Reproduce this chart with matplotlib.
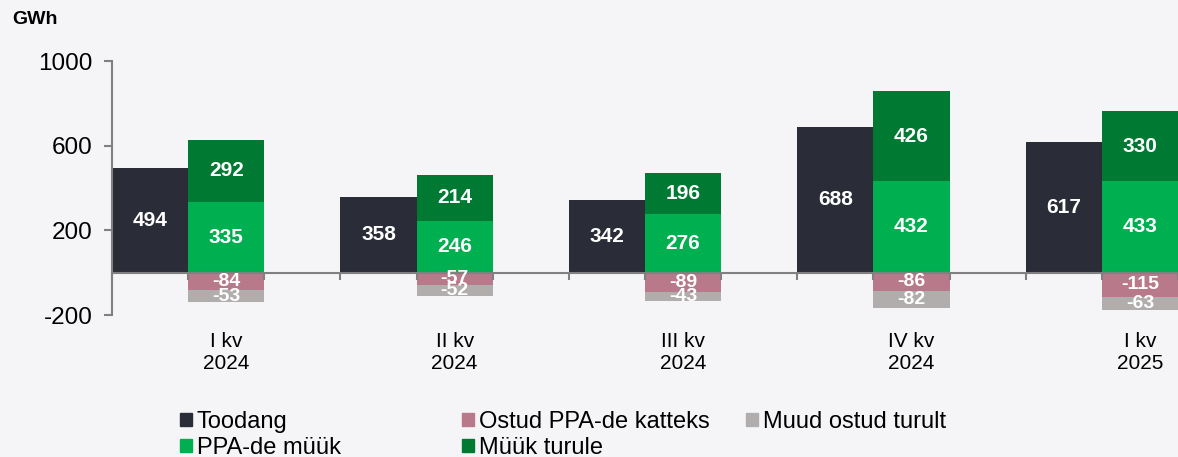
import numpy as np
import matplotlib.pyplot as plt
from matplotlib.patches import Patch

plt.rcParams['font.family'] = ['Liberation Sans', 'DejaVu Sans']
plt.rcParams['axes.unicode_minus'] = False

quarters = ['I kv\n2024', 'II kv\n2024', 'III kv\n2024', 'IV kv\n2024', 'I kv\n2025']
toodang = np.array([494, 358, 342, 688, 617])
ppa_myyk = np.array([335, 246, 276, 432, 433])
myyk_turule = np.array([292, 214, 196, 426, 330])
ostud_ppa = np.array([-84, -57, -89, -86, -115])
muud_ostud = np.array([-53, -52, -43, -82, -63])

c_toodang = '#2a2d37'
c_ppa = '#00b050'
c_turule = '#007a33'
c_ostud = '#b87a8a'
c_muud = '#b1adac'
bg = '#f5f5f8'

fig = plt.figure(figsize=(11.78, 4.57), dpi=100, facecolor=bg)
ax = fig.add_axes([112 / 1178, 142 / 457, 1 - 112 / 1178, 254 / 457])
ax.set_facecolor(bg)

g = np.arange(len(quarters))
x1 = 3 * g + 0.5
x2 = 3 * g + 1.5

ax.bar(x1, toodang, width=1, color=c_toodang)
ax.bar(x2, ppa_myyk, width=1, color=c_ppa)
ax.bar(x2, myyk_turule, width=1, bottom=ppa_myyk, color=c_turule)
ax.bar(x2, ostud_ppa, width=1, color=c_ostud)
ax.bar(x2, muud_ostud, width=1, bottom=ostud_ppa, color=c_muud)

lab = dict(color='white', fontweight='bold', ha='center', va='center')
for i in g:
    ax.text(x1[i], toodang[i] / 2, str(toodang[i]), fontsize=15, **lab)
    ax.text(x2[i], ppa_myyk[i] / 2, str(ppa_myyk[i]), fontsize=15, **lab)
    ax.text(x2[i], ppa_myyk[i] + myyk_turule[i] / 2, str(myyk_turule[i]), fontsize=15, **lab)
    ax.text(x2[i], ostud_ppa[i] / 2, str(ostud_ppa[i]), fontsize=14, **lab)
    ax.text(x2[i], ostud_ppa[i] + muud_ostud[i] / 2, str(muud_ostud[i]), fontsize=14, **lab)
    ax.text(x2[i], -280, quarters[i], fontsize=15, ha='center', va='top', linespacing=1.2)

ax.set_xlim(0, (1178 - 112) / 76.5)
ax.set_ylim(-200, 1000)
ax.set_yticks([-200, 200, 600, 1000])
ax.tick_params(axis='y', labelsize=17.5, length=6, width=1.5, color='#808080', pad=8)
ax.set_xticks(np.arange(0, 15))
ax.set_xticklabels([])
ax.tick_params(axis='x', length=5, width=1.5, color='#808080', direction='out')

for s in ['top', 'right']:
    ax.spines[s].set_visible(False)
ax.spines['bottom'].set_position(('data', 0))
ax.spines['bottom'].set_color('#808080')
ax.spines['bottom'].set_linewidth(1.5)
ax.spines['left'].set_color('#808080')
ax.spines['left'].set_linewidth(1.5)

fig.text(12 / 1178, 1 - 20 / 457, 'GWh', fontsize=14, fontweight='bold', va='center')

columns = [
    [('Toodang', c_toodang), ('PPA-de müük', c_ppa)],
    [('Ostud PPA-de katteks', c_ostud), ('Müük turule', c_turule)],
    [('Muud ostud turult', c_muud)],
]
col_x = [180, 462, 746]
for cx, items in zip(col_x, columns):
    handles = [Patch(color=c, label=t) for t, c in items]
    fig.legend(handles=handles, loc='upper left', bbox_to_anchor=(cx / 1178, 1 - 411 / 457),
               frameon=False, fontsize=17, handlelength=0.5, handleheight=0.5,
               handletextpad=0.2, labelspacing=0.17, borderpad=0, borderaxespad=0)

fig.savefig('out.png', dpi=100, facecolor=bg)
